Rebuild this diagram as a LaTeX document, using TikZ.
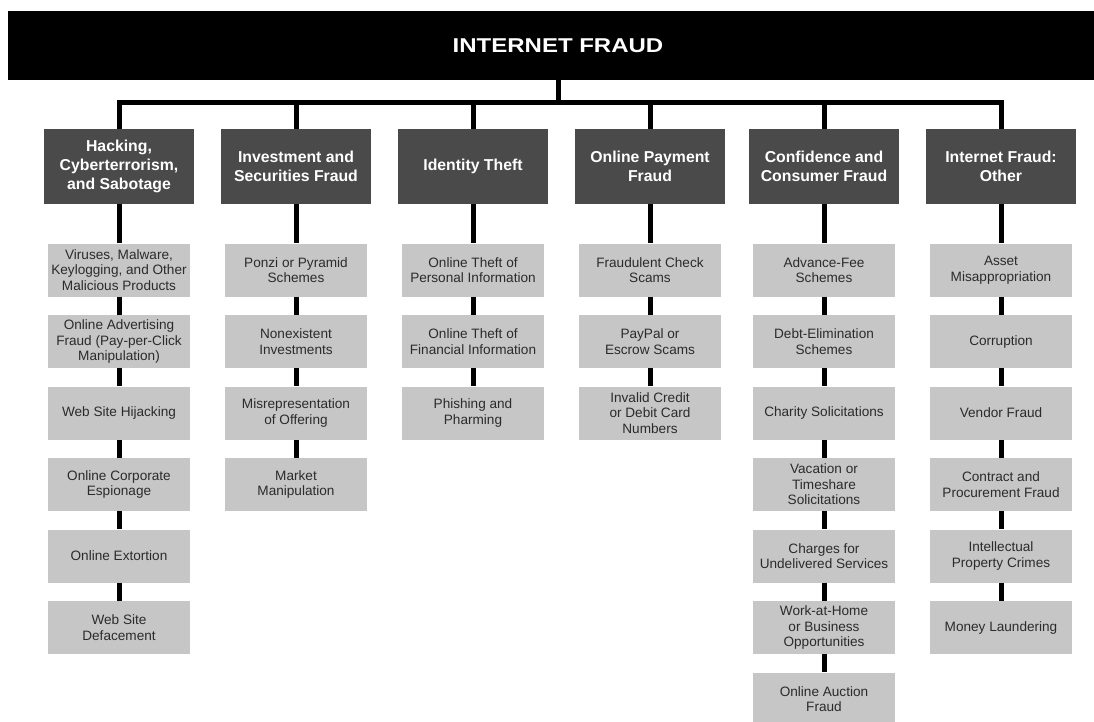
\documentclass[tikz,border=0pt]{standalone}
\usepackage{fontspec}
\setmainfont{Liberation Sans}
\newfontfamily\titlefont[FakeStretch=1.2]{Liberation Sans}
\usepackage{tikz}
\definecolor{catgray}{HTML}{4A4A4A}
\definecolor{itemgray}{HTML}{C6C6C6}
\definecolor{itemtext}{HTML}{2B2B2B}
\tikzset{
  topbox/.style={fill=black,text=white,minimum width=1100pt,minimum height=69pt,inner sep=0pt,
    font=\titlefont\bfseries\fontsize{20}{24}\selectfont},
  catbox/.style={fill=catgray,text=white,minimum width=150pt,minimum height=74pt,inner sep=0pt,
    align=center,font=\bfseries\fontsize{15.8}{19}\selectfont},
  itembox/.style={fill=itemgray,text=itemtext,minimum width=142pt,minimum height=53pt,inner sep=0pt,
    align=center,font=\fontsize{13.6}{15.5}\selectfont},
  link/.style={line width=5pt}
}

\begin{document}
\begin{tikzpicture}[x=1pt,y=-1pt]
  \clip (0,0) rectangle (1094,722);
  \node[topbox] (top) at (558,45.5) {INTERNET FRAUD};
  \coordinate (split) at (558,103);

  % categories
  \node[catbox] (hack)   at (119,166.5) {Hacking,\\Cyberterrorism,\\and Sabotage};
  \node[catbox] (invest) at (296,166.5) {Investment and\\Securities Fraud};
  \node[catbox] (ident)  at (473,166.5) {Identity Theft};
  \node[catbox] (pay)    at (650,166.5) {Online Payment\\Fraud};
  \node[catbox] (conf)   at (824,166.5) {Confidence and\\Consumer Fraud};
  \node[catbox] (other)  at (1001,166.5) {Internet Fraud:\\Other};

  % hacking
  \node[itembox] (hack1) at (119,270)   {Viruses, Malware,\\Keylogging, and Other\\Malicious Products};
  \node[itembox] (hack2) at (119,341.5) {Online Advertising\\Fraud (Pay-per-Click\\Manipulation)};
  \node[itembox] (hack3) at (119,413)   {Web Site Hijacking};
  \node[itembox] (hack4) at (119,484.5) {Online Corporate\\Espionage};
  \node[itembox] (hack5) at (119,556)   {Online Extortion};
  \node[itembox] (hack6) at (119,627.5) {Web Site\\Defacement};

  % investment
  \node[itembox] (invest1) at (296,270)   {Ponzi or Pyramid\\Schemes};
  \node[itembox] (invest2) at (296,341.5) {Nonexistent\\Investments};
  \node[itembox] (invest3) at (296,413)   {Misrepresentation\\of Offering};
  \node[itembox] (invest4) at (296,484.5) {Market\\Manipulation};

  % identity
  \node[itembox] (ident1) at (473,270)   {Online Theft of\\Personal Information};
  \node[itembox] (ident2) at (473,341.5) {Online Theft of\\Financial Information};
  \node[itembox] (ident3) at (473,413)   {Phishing and\\Pharming};

  % payment
  \node[itembox] (pay1) at (650,270)   {Fraudulent Check\\Scams};
  \node[itembox] (pay2) at (650,341.5) {PayPal or\\Escrow Scams};
  \node[itembox] (pay3) at (650,413)   {Invalid Credit\\or Debit Card\\Numbers};

  % confidence
  \node[itembox] (conf1) at (824,270)   {Advance-Fee\\Schemes};
  \node[itembox] (conf2) at (824,341.5) {Debt-Elimination\\Schemes};
  \node[itembox] (conf3) at (824,413)   {Charity Solicitations};
  \node[itembox] (conf4) at (824,484.5) {Vacation or\\Timeshare\\Solicitations};
  \node[itembox] (conf5) at (824,556)   {Charges for\\Undelivered Services};
  \node[itembox] (conf6) at (824,627.5) {Work-at-Home\\or Business\\Opportunities};
  \node[itembox] (conf7) at (824,699)   {Online Auction\\Fraud};

  % other
  \node[itembox] (other1) at (1001,270)   {Asset\\Misappropriation};
  \node[itembox] (other2) at (1001,341.5) {Corruption};
  \node[itembox] (other3) at (1001,413)   {Vendor Fraud};
  \node[itembox] (other4) at (1001,484.5) {Contract and\\Procurement Fraud};
  \node[itembox] (other5) at (1001,556)   {Intellectual\\Property Crimes};
  \node[itembox] (other6) at (1001,627.5) {Money Laundering};

  % connectors
  \draw[link] (top.south) -- (split);
  \foreach \c in {hack,invest,ident,pay,conf,other}
    \draw[link] (split) -| (\c.north);
  \foreach \a/\b in {hack/hack1,hack1/hack2,hack2/hack3,hack3/hack4,hack4/hack5,hack5/hack6,
      invest/invest1,invest1/invest2,invest2/invest3,invest3/invest4,
      ident/ident1,ident1/ident2,ident2/ident3,
      pay/pay1,pay1/pay2,pay2/pay3,
      conf/conf1,conf1/conf2,conf2/conf3,conf3/conf4,conf4/conf5,conf5/conf6,conf6/conf7,
      other/other1,other1/other2,other2/other3,other3/other4,other4/other5,other5/other6}
    \draw[link] (\a.south) -- (\b.north);
\end{tikzpicture}
\end{document}
